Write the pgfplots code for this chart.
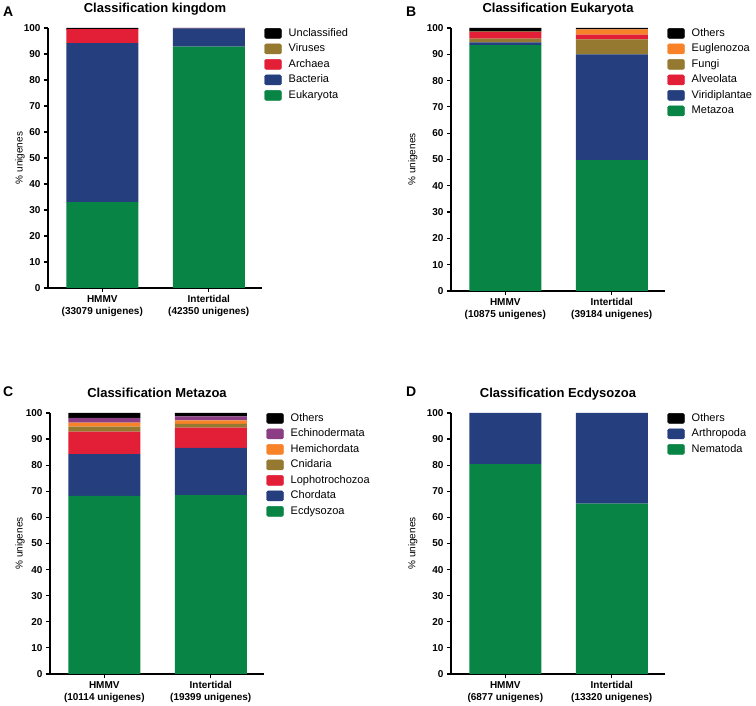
\documentclass[border=0pt]{standalone}
\usepackage{pgfplots}
\pgfplotsset{compat=1.18}
\usepackage{fontspec}
\setmainfont{Liberation Sans}
\definecolor{cgreen}{RGB}{8,133,68}
\definecolor{cblue}{RGB}{36,62,126}
\definecolor{cred}{RGB}{226,31,54}
\definecolor{colive}{RGB}{150,121,48}
\definecolor{corange}{RGB}{247,130,40}
\definecolor{cpurple}{RGB}{140,62,132}
\definecolor{cblack}{RGB}{0,0,0}
\pgfplotsset{
 sw/.style={legend image code/.code={\fill[#1, rounded corners=1.5pt] (0pt,-5pt) rectangle (17pt,5pt);}},
 panel/.style={
  scale only axis, width=214pt,
  ybar stacked, bar width=72pt,
  xmin=-0.51, xmax=1.5, ymin=0, ymax=100,
  axis lines*=left, axis line style={line width=1.2pt, black},
  xtick={0,1}, ytick={0,10,...,100},
  tick align=outside, major tick length=4pt,
  tick style={line width=1.2pt, black},
  /pgf/number format/assume math mode=true,
  ticklabel style={font=\bfseries\fontsize{10}{12}\selectfont},
  x tick label style={align=center},
  ylabel={\% unigenes},
  ylabel style={font=\bfseries\fontsize{10.8}{12}\selectfont},
  every axis title shift=0pt,
  title style={font=\bfseries\fontsize{13}{15}\selectfont, at={(0.5,1)}, anchor=base, yshift=15pt},
  legend style={draw=none, fill=none, at={(1.01,1)}, anchor=north west, inner sep=0pt,
    row sep=5pt, column sep=7pt, font=\fontsize{11}{13}\selectfont,
    nodes={inner sep=0pt, text height=8pt, text depth=2.5pt}},
  legend cell align=left,
 },
 ylab/.style={every axis y label/.style={at={(axis description cs:#1,0.5)}, rotate=90, anchor=center}},
}
\begin{document}
\begin{tikzpicture}[x=1pt,y=1pt]
\useasboundingbox (0,0) rectangle (756,706);
\node[font=\bfseries\fontsize{14}{16}\selectfont, anchor=base west, inner sep=0pt] at (3,689) {A};
\node[font=\bfseries\fontsize{14}{16}\selectfont, anchor=base west, inner sep=0pt] at (406,689) {B};
\node[font=\bfseries\fontsize{14}{16}\selectfont, anchor=base west, inner sep=0pt] at (3,309) {C};
\node[font=\bfseries\fontsize{14}{16}\selectfont, anchor=base west, inner sep=0pt] at (406,309) {D};

% Panel A
\begin{axis}[panel, height=260pt, at={(48pt,418pt)}, anchor=south west, ylab=-0.131,
  title={Classification kingdom},
  xticklabels={{HMMV\\(33079 unigenes)},{Intertidal\\(42350 unigenes)}}]
\addplot[fill=cgreen, draw=none, forget plot] coordinates {(0,33.0) (1,92.8)};
\addplot[fill=cblue, draw=none, forget plot] coordinates {(0,61.2) (1,7.1)};
\addplot[fill=cred, draw=none, forget plot] coordinates {(0,5.4) (1,0.05)};
\addplot[fill=colive, draw=none, forget plot] coordinates {(0,0.1) (1,0.0)};
\addplot[fill=cblack, draw=none, forget plot] coordinates {(0,0.3) (1,0.05)};
\addlegendimage{sw=cblack}\addlegendentry{Unclassified}
\addlegendimage{sw=colive}\addlegendentry{Viruses}
\addlegendimage{sw=cred}\addlegendentry{Archaea}
\addlegendimage{sw=cblue}\addlegendentry{Bacteria}
\addlegendimage{sw=cgreen}\addlegendentry{Eukaryota}
\end{axis}

% Panel B
\begin{axis}[panel, height=263pt, at={(451pt,415pt)}, anchor=south west, ylab=-0.178,
  title={Classification Eukaryota},
  xticklabels={{HMMV\\(10875 unigenes)},{Intertidal\\(39184 unigenes)}}]
\addplot[fill=cgreen, draw=none, forget plot] coordinates {(0,93.5) (1,49.8)};
\addplot[fill=cblue, draw=none, forget plot] coordinates {(0,1.0) (1,40.2)};
\addplot[fill=colive, draw=none, forget plot] coordinates {(0,1.5) (1,5.7)};
\addplot[fill=cred, draw=none, forget plot] coordinates {(0,2.4) (1,1.8)};
\addplot[fill=corange, draw=none, forget plot] coordinates {(0,0.2) (1,2.0)};
\addplot[fill=cblack, draw=none, forget plot] coordinates {(0,1.4) (1,0.5)};
\addlegendimage{sw=cblack}\addlegendentry{Others}
\addlegendimage{sw=corange}\addlegendentry{Euglenozoa}
\addlegendimage{sw=colive}\addlegendentry{Fungi}
\addlegendimage{sw=cred}\addlegendentry{Alveolata}
\addlegendimage{sw=cblue}\addlegendentry{Viridiplantae}
\addlegendimage{sw=cgreen}\addlegendentry{Metazoa}
\end{axis}

% Panel C
\begin{axis}[panel, height=261pt, at={(50pt,32pt)}, anchor=south west, ylab=-0.14,
  title={Classification Metazoa},
  xticklabels={{HMMV\\(10114 unigenes)},{Intertidal\\(19399 unigenes)}}]
\addplot[fill=cgreen, draw=none, forget plot] coordinates {(0,68.2) (1,68.5)};
\addplot[fill=cblue, draw=none, forget plot] coordinates {(0,16.0) (1,18.1)};
\addplot[fill=cred, draw=none, forget plot] coordinates {(0,8.7) (1,7.8)};
\addplot[fill=colive, draw=none, forget plot] coordinates {(0,1.9) (1,1.4)};
\addplot[fill=corange, draw=none, forget plot] coordinates {(0,1.5) (1,1.4)};
\addplot[fill=cpurple, draw=none, forget plot] coordinates {(0,1.8) (1,1.5)};
\addplot[fill=cblack, draw=none, forget plot] coordinates {(0,1.9) (1,1.3)};
\addlegendimage{sw=cblack}\addlegendentry{Others}
\addlegendimage{sw=cpurple}\addlegendentry{Echinodermata}
\addlegendimage{sw=corange}\addlegendentry{Hemichordata}
\addlegendimage{sw=colive}\addlegendentry{Cnidaria}
\addlegendimage{sw=cred}\addlegendentry{Lophotrochozoa}
\addlegendimage{sw=cblue}\addlegendentry{Chordata}
\addlegendimage{sw=cgreen}\addlegendentry{Ecdysozoa}
\end{axis}

% Panel D
\begin{axis}[panel, height=261pt, at={(451pt,32pt)}, anchor=south west, ylab=-0.178,
  title={Classification Ecdysozoa},
  xticklabels={{HMMV\\(6877 unigenes)},{Intertidal\\(13320 unigenes)}}]
\addplot[fill=cgreen, draw=none, forget plot] coordinates {(0,80.4) (1,65.3)};
\addplot[fill=cblue, draw=none, forget plot] coordinates {(0,19.6) (1,34.7)};
\addplot[fill=cblack, draw=none, forget plot] coordinates {(0,0.0) (1,0.0)};
\addlegendimage{sw=cblack}\addlegendentry{Others}
\addlegendimage{sw=cblue}\addlegendentry{Arthropoda}
\addlegendimage{sw=cgreen}\addlegendentry{Nematoda}
\end{axis}
\end{tikzpicture}
\end{document}
